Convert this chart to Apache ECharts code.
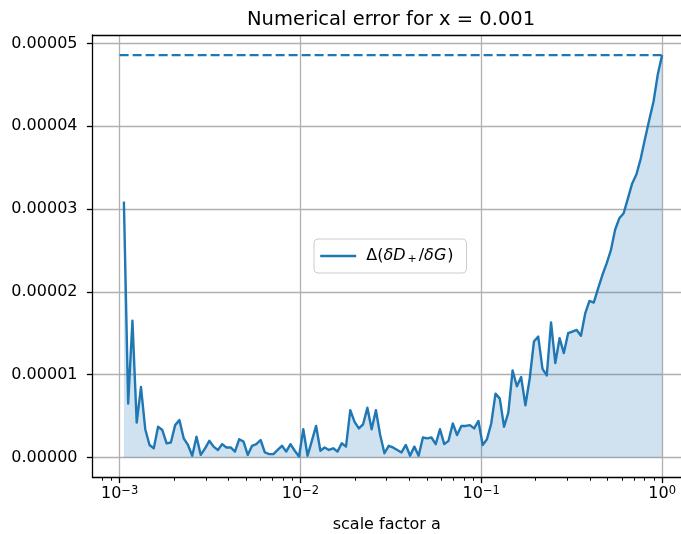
<!DOCTYPE html>
<html>
<head>
<meta charset="utf-8">
<script src="https://cdn.jsdelivr.net/npm/echarts@6/dist/echarts.min.js"></script>
<style>
html,body{margin:0;padding:0;background:#fff;}
#chart{width:681px;height:534px;}
</style>
</head>
<body>
<div id="chart"></div>
<script>
const chartTitle = 'Numerical error for x = 0.001';
const xAxisName = 'scale factor a';
const seriesName = 'Δ(δD₊/δG)';

const scaleFactor = [
 1.0559e-3,1.1149e-3,1.1772e-3,1.2430e-3,1.3125e-3,1.3859e-3,1.4634e-3,1.5452e-3,1.6315e-3,1.7227e-3,
 1.8190e-3,1.9207e-3,2.0281e-3,2.1414e-3,2.2611e-3,2.3875e-3,2.5210e-3,2.6619e-3,2.8107e-3,2.9678e-3,
 3.1337e-3,3.3089e-3,3.4938e-3,3.6891e-3,3.8953e-3,4.1131e-3,4.3430e-3,4.5858e-3,4.8421e-3,5.1127e-3,
 5.3985e-3,5.7003e-3,6.0189e-3,6.3554e-3,6.7106e-3,7.0857e-3,7.4818e-3,7.9000e-3,8.3416e-3,8.8079e-3,
 9.3003e-3,9.8201e-3,
 1.0369e-2,1.0949e-2,1.1561e-2,1.2207e-2,1.2889e-2,1.3610e-2,1.4370e-2,1.5174e-2,1.6022e-2,1.6917e-2,
 1.7863e-2,1.8862e-2,1.9916e-2,2.1029e-2,2.2205e-2,2.3446e-2,2.4756e-2,2.6140e-2,2.7601e-2,2.9144e-2,
 3.0773e-2,3.2493e-2,3.4310e-2,3.6228e-2,3.8253e-2,4.0391e-2,4.2649e-2,4.5033e-2,4.7550e-2,5.0208e-2,
 5.3014e-2,5.5978e-2,5.9107e-2,6.2411e-2,6.5899e-2,6.9583e-2,7.3472e-2,7.7579e-2,8.1916e-2,8.6495e-2,
 9.1330e-2,9.6435e-2,1.01825e-1,
 1.0752e-1,1.1353e-1,1.1987e-1,1.2657e-1,1.3365e-1,1.4112e-1,1.4901e-1,1.5734e-1,1.6613e-1,1.7542e-1,
 1.8522e-1,1.9558e-1,2.0651e-1,2.1805e-1,2.3024e-1,2.4311e-1,2.5670e-1,2.7105e-1,2.8620e-1,3.0220e-1,
 3.1909e-1,3.3693e-1,3.5576e-1,3.7565e-1,3.9664e-1,4.1881e-1,4.4223e-1,4.6695e-1,4.9305e-1,5.2061e-1,
 5.4971e-1,5.8043e-1,6.1288e-1,6.4714e-1,6.8331e-1,7.2151e-1,7.6184e-1,8.0442e-1,8.4939e-1,8.9687e-1,
 9.4700e-1,1.0
];

const numericalError = [
 3.09e-5,0.65e-5,1.65e-5,0.42e-5,0.85e-5,0.34e-5,0.15e-5,0.11e-5,0.37e-5,0.33e-5,
 0.17e-5,0.18e-5,0.39e-5,0.45e-5,0.23e-5,0.15e-5,0.02e-5,0.25e-5,0.03e-5,0.11e-5,
 0.20e-5,0.13e-5,0.09e-5,0.16e-5,0.12e-5,0.12e-5,0.07e-5,0.22e-5,0.19e-5,0.03e-5,
 0.14e-5,0.16e-5,0.21e-5,0.06e-5,0.04e-5,0.04e-5,0.09e-5,0.14e-5,0.07e-5,0.16e-5,
 0.08e-5,0.01e-5,0.34e-5,0.02e-5,0.20e-5,0.38e-5,0.08e-5,0.12e-5,0.09e-5,0.11e-5,
 0.07e-5,0.17e-5,0.13e-5,0.57e-5,0.43e-5,0.35e-5,0.40e-5,0.60e-5,0.34e-5,0.57e-5,
 0.27e-5,0.05e-5,0.14e-5,0.12e-5,0.09e-5,0.06e-5,0.15e-5,0.02e-5,0.13e-5,0.02e-5,
 0.24e-5,0.23e-5,0.24e-5,0.16e-5,0.34e-5,0.16e-5,0.20e-5,0.41e-5,0.27e-5,0.38e-5,
 0.38e-5,0.39e-5,0.35e-5,0.44e-5,0.15e-5,0.22e-5,0.41e-5,0.77e-5,0.71e-5,0.37e-5,
 0.54e-5,1.05e-5,0.86e-5,0.97e-5,0.63e-5,0.95e-5,1.40e-5,1.46e-5,1.07e-5,0.99e-5,
 1.63e-5,1.14e-5,1.44e-5,1.26e-5,1.50e-5,1.52e-5,1.54e-5,1.47e-5,1.74e-5,1.89e-5,
 1.87e-5,2.04e-5,2.20e-5,2.34e-5,2.50e-5,2.75e-5,2.89e-5,2.95e-5,3.13e-5,3.31e-5,
 3.42e-5,3.61e-5,3.85e-5,4.08e-5,4.30e-5,4.63e-5,4.86e-5
];

// reference (dashed) line: from a = 1e-3 to the last sample, at the maximum error
const refLineStart = 1e-3;

const xMajorTicks = [1e-3, 1e-2, 1e-1, 1];
const xMinorTicks = [
 7e-4,8e-4,9e-4,
 2e-3,3e-3,4e-3,5e-3,6e-3,7e-3,8e-3,9e-3,
 2e-2,3e-2,4e-2,5e-2,6e-2,7e-2,8e-2,9e-2,
 2e-1,3e-1,4e-1,5e-1,6e-1,7e-1,8e-1,9e-1
];
const yTicks = [0, 1e-5, 2e-5, 3e-5, 4e-5, 5e-5];

// visible x window (the right edge of the original figure is cropped)
const xMin = Math.pow(10, -3.15), xMax = Math.pow(10, 0.1045);
const yMin = -0.243e-5, yMax = 5.103e-5;

const C = '#1f77b4';
const FONT = 'DejaVu Sans';
const lineData = scaleFactor.map((a, i) => [a, numericalError[i]]);
const maxErr = Math.max.apply(null, numericalError);
const refData = [[refLineStart, maxErr], [scaleFactor[scaleFactor.length - 1], maxErr]];

const chart = echarts.init(document.getElementById('chart'), null, {renderer: 'canvas'});
const supMinus = '\u2212';

chart.setOption({
  animation: false,
  backgroundColor: '#fff',
  textStyle: {fontFamily: FONT, color: '#000'},
  title: {
    text: chartTitle,
    left: 242, top: 5,
    textStyle: {fontFamily: FONT, fontSize: 19.5, fontWeight: 'normal', color: '#000'}
  },
  grid: {
    left: 92.5, top: 35, right: 0, bottom: 56.5,
    outerBoundsMode: 'none',
    containLabel: false,
    show: false
  },
  legend: {
    data: [seriesName],
    left: 314, top: 239,
    orient: 'vertical',
    padding: [9, 13, 8, 5],
    itemWidth: 36, itemHeight: 14,
    backgroundColor: 'rgba(255,255,255,0.8)',
    borderColor: '#cccccc', borderWidth: 1, borderRadius: 4,
    itemStyle: {opacity: 0, color: 'rgba(0,0,0,0)', borderWidth: 0},
    lineStyle: {color: C, width: 2.4},
    formatter: () => '{n0|Δ(}{i|δD}{sub|+}{n|/}{i|δG}{n|)}',
    textStyle: {
      fontFamily: FONT, fontSize: 16, color: '#000',
      rich: {
        n0: {fontFamily: FONT, fontSize: 16, color: '#000', lineHeight: 18, padding: [0, 0, 0, 5]},
        n: {fontFamily: FONT, fontSize: 16, color: '#000', lineHeight: 18},
        i: {fontFamily: FONT, fontSize: 16, color: '#000', fontStyle: 'italic', lineHeight: 18, padding: [0, 1, 0, 0]},
        sub: {fontFamily: FONT, fontSize: 11, color: '#000', lineHeight: 10, verticalAlign: 'bottom', padding: [0, 2, 0, 1]}
      }
    }
  },
  xAxis: [{
    type: 'log', logBase: 10, min: xMin, max: xMax,
    name: xAxisName, nameLocation: 'middle', nameGap: 39,
    nameTextStyle: {fontFamily: FONT, fontSize: 16, color: '#000'},
    axisLine: {onZero: false, lineStyle: {color: '#000', width: 1.3}},
    axisTick: {customValues: xMajorTicks, length: 5.6, lineStyle: {color: '#000', width: 1.3}},
    axisLabel: {
      customValues: xMajorTicks, margin: 8,
      formatter: (v) => {
        const e = Math.round(Math.log10(v));
        return '{b|10}{s|' + (e < 0 ? supMinus + (-e) : String(e)) + '}';
      },
      rich: {
        b: {fontFamily: FONT, fontSize: 16, color: '#000', lineHeight: 16, padding: [5, 0, 0, 0], verticalAlign: 'bottom'},
        s: {fontFamily: FONT, fontSize: 11.5, color: '#000', lineHeight: 12, verticalAlign: 'top'}
      }
    },
    splitLine: {show: true, lineStyle: {color: '#b0b0b0', width: 1.3}},
    minorTick: {show: false}
  }, {
    type: 'log', logBase: 10, min: xMin, max: xMax,
    position: 'bottom',
    axisLine: {show: false, onZero: false},
    axisTick: {customValues: xMinorTicks, length: 3.2, lineStyle: {color: '#000', width: 1}},
    axisLabel: {show: false},
    splitLine: {show: false}
  }, {
    type: 'log', logBase: 10, min: xMin, max: xMax,
    position: 'top',
    axisLine: {show: true, onZero: false, lineStyle: {color: '#000', width: 1.3}},
    axisTick: {show: false},
    axisLabel: {show: false},
    splitLine: {show: false}
  }],
  yAxis: {
    type: 'value', min: yMin, max: yMax,
    axisLine: {show: true, onZero: false, lineStyle: {color: '#000', width: 1.3}},
    axisTick: {show: true, customValues: yTicks, length: 5.6, lineStyle: {color: '#000', width: 1.3}},
    axisLabel: {
      customValues: yTicks, margin: 15,
      fontFamily: FONT, fontSize: 16, color: '#000',
      formatter: (v) => v.toFixed(5)
    },
    splitLine: {show: true, lineStyle: {color: '#b0b0b0', width: 1.3}}
  },
  series: [{
    name: seriesName,
    type: 'line',
    xAxisIndex: 0,
    data: lineData,
    symbol: 'none',
    lineStyle: {color: C, width: 2.4, join: 'round'},
    itemStyle: {color: C},
    areaStyle: {color: 'rgba(31,119,180,0.3)', origin: 'auto'},
    z: 3
  }, {
    name: 'ref',
    type: 'line',
    xAxisIndex: 0,
    data: refData,
    symbol: 'none',
    lineStyle: {color: C, width: 2.4, type: [9, 4]},
    itemStyle: {color: C},
    z: 4
  }]
});
</script>
</body>
</html>
